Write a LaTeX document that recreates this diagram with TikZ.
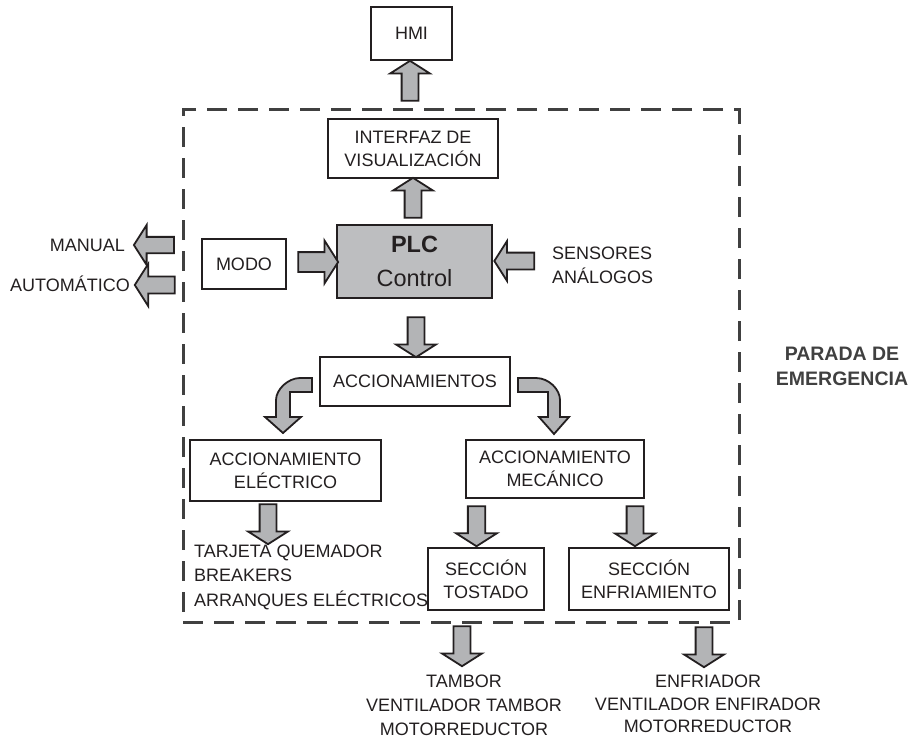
\documentclass[tikz,border=0pt]{standalone}
\usepackage{fontspec}
\setmainfont{Liberation Sans}
\usepackage{xcolor}
\usetikzlibrary{positioning, shapes.arrows, calc}

\definecolor{arrowgray}{HTML}{B3B4B6}
\definecolor{plcgray}{HTML}{BDBEC0}
\definecolor{inkgray}{HTML}{231F20}
\definecolor{zonegray}{HTML}{404040}

\begin{document}
\begin{tikzpicture}[x=1pt, y=1pt,
    font=\fontsize{18}{23}\selectfont, text=inkgray,
    block/.style={draw=inkgray, line width=2.4pt, fill=white, align=center,
        inner sep=0pt, outer sep=0pt},
    fatarrow/.style={single arrow, draw=inkgray, fill=arrowgray, line width=1.8pt,
        inner xsep=0pt, inner ysep=7.5pt, minimum height=40pt, minimum width=38pt,
        single arrow head extend=11.5pt, single arrow tip angle=115},
    bentarrow/.style={draw=inkgray, fill=arrowgray, line width=1.8pt, line join=miter},
    zone/.style={draw=zonegray, line width=3pt, dash pattern=on 20pt off 11pt,
        inner sep=0pt, outer sep=0pt},
    txt/.style={inner sep=0pt, font=\fontsize{18}{24}\selectfont}]
    \useasboundingbox (0,0) rectangle (912,-740);

    % emergency stop zone
    \node[zone, minimum width=556pt, minimum height=513pt] (zone) at (461,-365.5) {};
    \node[txt, anchor=north, align=center, text=zonegray,
          font=\fontsize{19.5}{25}\selectfont\bfseries] (stop) at (842,-346.5)
          {PARADA DE\\EMERGENCIA};

    % Add the blocks
    \node[block, minimum width=81pt, minimum height=53pt] (hmi) at (411.5,-33.5) {HMI};
    \node[block, minimum width=170pt, minimum height=59pt,
          below=59pt of hmi, xshift=1.5pt] (iface) {INTERFAZ DE\\VISUALIZACIÓN};
    \node[block, fill=plcgray, minimum width=155pt, minimum height=73pt,
          below=47pt of iface, xshift=1.5pt,
          font=\fontsize{23.5}{34}\selectfont] (plc) {\textbf{PLC}\\Control};
    \node[block, minimum width=84pt, minimum height=50pt,
          left=51pt of plc, yshift=-2.5pt] (modo) {MODO};
    \node[block, minimum width=190pt, minimum height=49pt,
          below=59pt of plc, xshift=0.5pt] (acc) {ACCIONAMIENTOS};
    \node[block, minimum width=191pt, minimum height=61pt] (elec) at (285.5,-470.5)
          {ACCIONAMIENTO\\ELÉCTRICO};
    \node[block, minimum width=178pt, minimum height=58pt] (mech) at (555,-469)
          {ACCIONAMIENTO\\MECÁNICO};
    \node[block, minimum width=116pt, minimum height=62pt] (tost) at (486,-579)
          {SECCIÓN\\TOSTADO};
    \node[block, minimum width=160pt, minimum height=62pt,
          right=25pt of tost] (enfr) {SECCIÓN\\ENFRIAMIENTO};

    % free texts
    \node[txt, anchor=base east] (manual) at (125,-251.5) {MANUAL};
    \node[txt, anchor=base east] (auto) at (130,-291.5) {AUTOMÁTICO};
    \node[txt, anchor=north west, align=left] (sens) at (552,-246.5)
          {SENSORES\\ANÁLOGOS};
    \node[txt, anchor=north west, align=left, font=\fontsize{18}{24.5}\selectfont]
          (elecout) at (194,-544.5)
          {TARJETA QUEMADOR\\BREAKERS\\ARRANQUES ELÉCTRICOS};
    \node[txt, anchor=north, align=center] (tostout) at (464,-675)
          {TAMBOR\\VENTILADOR TAMBOR\\MOTORREDUCTOR};
    \node[txt, anchor=north, align=center, font=\fontsize{18}{22.5}\selectfont]
          (enfrout) at (708,-675)
          {ENFRIADOR\\VENTILADOR ENFIRADOR\\MOTORREDUCTOR};

    % straight block arrows
    \node[fatarrow, rotate=90] (a1) at (410,-83.5) {};
    \node[fatarrow, rotate=90] (a2) at (413,-200.5) {};
    \node[fatarrow, inner ysep=9pt] (a3) at (315,-262) {};
    \node[fatarrow, rotate=180] (a4) at (517,-261) {};
    \node[fatarrow, rotate=-90] (a5) at (416,-334.5) {};
    \node[fatarrow, rotate=180, inner ysep=7pt, minimum width=40pt] (a6) at (156.5,-245) {};
    \node[fatarrow, rotate=180, inner ysep=7pt, minimum width=42pt] (a7) at (157.5,-285) {};
    \node[fatarrow, rotate=-90] (a8) at (268,-521.5) {};
    \node[fatarrow, rotate=-90, minimum width=41pt] (a9) at (476.5,-523.5) {};
    \node[fatarrow, rotate=-90, minimum width=35pt] (a10) at (635,-523.5) {};
    \node[fatarrow, rotate=-90, minimum width=40pt] (a11) at (462,-643.5) {};
    \node[fatarrow, rotate=-90, minimum width=36pt] (a12) at (704,-644.5) {};

    % bent block arrows
    \draw[bentarrow, shift={($(acc.west)+(-8,0)$)}]
        (0,3.5) -- (-12,3.5) .. controls (-24,3.5) and (-36,-8) .. (-36,-18.5)
        -- (-36,-35.5) -- (-47,-35.5) -- (-29,-51.5) -- (-11,-35.5)
        -- (-22,-35.5) -- (-22,-10.5) -- (0,-10.5) -- cycle;
    \draw[bentarrow, shift={($(acc.east)+(8,0)$)}]
        (0,3.5) -- (18,3.5) .. controls (31,3.5) and (42,-8) .. (42,-18.5)
        -- (42,-35.5) -- (51,-35.5) -- (36,-52.5) -- (21,-35.5)
        -- (30,-35.5) -- (30,-10.5) -- (0,-10.5) -- cycle;
\end{tikzpicture}
\end{document}
